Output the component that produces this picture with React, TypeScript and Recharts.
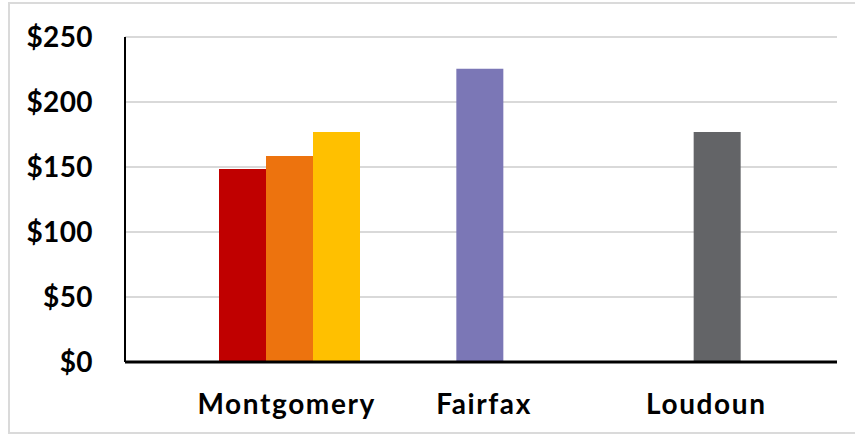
import React from 'react';
import { BarChart, Bar, XAxis, YAxis, CartesianGrid, Cell } from 'recharts';

// Counties along the category axis
const counties = ['Montgomery', 'Fairfax', 'Loudoun'];

// Two leading slots are left empty in each county group
const blankA: (number | null)[] = [null, null, null];
const blankB: (number | null)[] = [null, null, null];
// Main per-county value (one bar per county)
const primary: (number | null)[] = [148.5, 225.5, 177];
// Additional Montgomery values
const secondary: (number | null)[] = [158.5, null, null];
const tertiary: (number | null)[] = [177, null, null];

const yTicks = [0, 50, 100, 150, 200, 250];

const primaryColors = ['#C00000', '#7B77B6', '#636467'];
const secondaryColor = '#ED730E';
const tertiaryColor = '#FFC000';

const rows = counties.map((name, i) => ({
  name,
  blankA: blankA[i],
  blankB: blankB[i],
  primary: primary[i],
  secondary: secondary[i],
  tertiary: tertiary[i],
}));

const FONT = 'Lato, "Noto Sans", sans-serif';
// horizontal nudges for the category captions
const labelShift: Record<string, number> = { Montgomery: 43, Fairfax: 3, Loudoun: -12 };

const CountyTick = (props: any) => {
  const { x, y, payload } = props;
  const dx = labelShift[payload.value] ?? 0;
  return (
    <text
      x={x + dx}
      y={y}
      textAnchor="middle"
      fontFamily={FONT}
      fontWeight={700}
      fontSize={28}
      letterSpacing={1.6}
      fill="#000"
    >
      {payload.value}
    </text>
  );
};

const MoneyTick = (props: any) => {
  const { x, y, payload } = props;
  return (
    <text
      x={x}
      y={y}
      dy={10}
      textAnchor="end"
      fontFamily={FONT}
      fontWeight={700}
      fontSize={28}
      letterSpacing={0.4}
      fill="#000"
    >
      {`$${payload.value}`}
    </text>
  );
};

export default function App() {
  return (
    <div
      style={{
        position: 'absolute',
        left: 0,
        top: 0,
        width: 855,
        height: 434,
        overflow: 'hidden',
        background: '#fff',
      }}
    >
      <div
        style={{
          position: 'absolute',
          left: 8,
          top: 2,
          width: 880,
          height: 428,
          border: '2px solid #dadada',
        }}
      />
      <div style={{ position: 'absolute', left: 0, top: 0 }}>
        <BarChart
          width={855}
          height={434}
          data={rows}
          margin={{ top: 37, right: 18, bottom: 0, left: 0 }}
          barCategoryGap={0}
          barGap={0}
        >
          <CartesianGrid vertical={false} stroke="#d9d9d9" strokeWidth={2} />
          <XAxis
            dataKey="name"
            height={72}
            tickLine={false}
            axisLine={{ stroke: '#000', strokeWidth: 3 }}
            tick={<CountyTick />}
            tickMargin={46}
          />
          <YAxis
            width={125}
            domain={[0, 250]}
            ticks={yTicks}
            tickLine={false}
            axisLine={{ stroke: '#000', strokeWidth: 2 }}
            tickMargin={26}
            tick={<MoneyTick />}
            interval={0}
          />
          <Bar dataKey="blankA" isAnimationActive={false} fill="#fff" />
          <Bar dataKey="blankB" isAnimationActive={false} fill="#fff" />
          <Bar dataKey="primary" isAnimationActive={false}>
            {rows.map((r, i) => (
              <Cell key={r.name} fill={primaryColors[i]} />
            ))}
          </Bar>
          <Bar dataKey="secondary" isAnimationActive={false} fill={secondaryColor} />
          <Bar dataKey="tertiary" isAnimationActive={false} fill={tertiaryColor} />
        </BarChart>
      </div>
    </div>
  );
}
